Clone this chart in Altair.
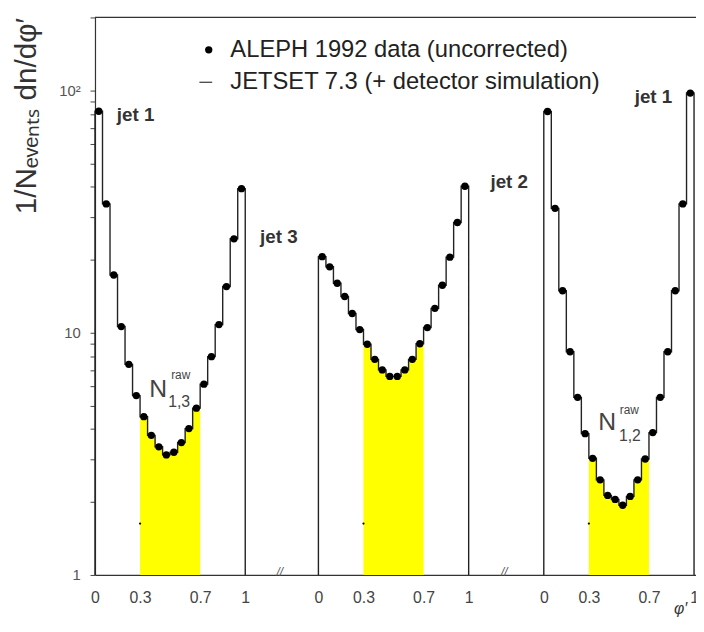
import altair as alt
import pandas as pd

# ---------------- data ----------------
bin_width = 0.05
panel_offsets = [0.0, 1.487, 2.987]          # three 0..1 panels with axis breaks between
panel_names = ["1-3", "3-2", "2-1"]

aleph_13 = [82, 34, 17.3, 10.6, 7.4, 5.5, 4.5, 3.77, 3.38, 3.13,
            3.21, 3.52, 4.02, 4.88, 6.13, 7.96, 10.8, 15.5, 24.4, 39.3]
aleph_32 = [20.6, 18.7, 16.0, 14.1, 12.0, 10.3, 8.96, 7.76, 7.02, 6.6,
            6.6, 7.02, 7.76, 9.0, 10.5, 12.6, 15.7, 20.5, 28.5, 40.2]
aleph_21 = [81.8, 32.6, 14.9, 8.34, 5.41, 3.83, 3.03, 2.47, 2.13, 2.05,
            1.94, 2.11, 2.47, 3.01, 3.87, 5.41, 8.34, 14.9, 34.0, 97.5]

jetset_13 = [82, 34, 17.3, 10.6, 7.4, 5.5, 4.5, 3.77, 3.38, 3.13,
             3.21, 3.52, 4.02, 4.88, 6.13, 7.96, 10.8, 15.5, 24.4, 39.3]
jetset_32 = [20.6, 18.7, 16.0, 14.1, 12.0, 10.3, 8.96, 7.76, 7.02, 6.6,
             6.6, 7.02, 7.76, 9.0, 10.5, 12.6, 15.7, 20.5, 28.5, 40.2]
jetset_21 = [81.8, 32.6, 14.9, 8.34, 5.41, 3.83, 3.03, 2.47, 2.13, 2.05,
             1.94, 2.11, 2.47, 3.01, 3.87, 5.41, 8.34, 14.9, 34.0, 97.5]

shade_from, shade_to = 0.3, 0.7
stray_dot_y = 1.63

x_tick_local = [0, 0.3, 0.7, 1]
x_tick_text = ["0", "0.3", "0.7", "1"]
y_tick_values = [1, 2, 3, 4, 5, 6, 7, 8, 9, 10, 20, 30, 40, 50, 60, 70, 80, 90, 100, 200]

aleph = [aleph_13, aleph_32, aleph_21]
jetset = [jetset_13, jetset_32, jetset_21]

# ---------------- tables ----------------
pts, steps, areas, strays = [], [], [], []
for name, off, dv, mv in zip(panel_names, panel_offsets, aleph, jetset):
    n = len(dv)
    for i, v in enumerate(dv):
        pts.append({"panel": name, "x": off + (i + 0.5) * bin_width, "y": v})
    order = 0
    steps.append({"panel": name, "x": off, "y": 1, "o": order}); order += 1
    for i, v in enumerate(mv):
        steps.append({"panel": name, "x": off + i * bin_width, "y": v, "o": order}); order += 1
    steps.append({"panel": name, "x": off + n * bin_width, "y": mv[-1], "o": order}); order += 1
    steps.append({"panel": name, "x": off + n * bin_width, "y": 1, "o": order})
    i0 = int(round(shade_from / bin_width)); i1 = int(round(shade_to / bin_width))
    for i in range(i0, i1):
        areas.append({"panel": name, "x": off + i * bin_width, "y": mv[i], "base": 1})
    areas.append({"panel": name, "x": off + i1 * bin_width, "y": mv[i1 - 1], "base": 1})
    strays.append({"x": off + shade_from, "y": stray_dot_y})

pts = pd.DataFrame(pts); steps = pd.DataFrame(steps); areas = pd.DataFrame(areas)
strays = pd.DataFrame(strays)

x_tick_values = [off + t for off in panel_offsets for t in x_tick_local]
x_tick_labels = x_tick_text * len(panel_offsets)
label_expr = "[" + ",".join("'%s'" % s for s in x_tick_labels) + "][indexof([" + \
    ",".join(repr(v) for v in x_tick_values) + "], datum.value)]"

FONT = "Liberation Sans"
W, H = 608, 564

xscale = alt.Scale(domain=[0, 4.0], nice=False, zero=False)
yscale = alt.Scale(type="log", domain=[1, 200], nice=False)

x_axis = alt.Axis(
    values=x_tick_values, labelExpr=label_expr, ticks=False, grid=False,
    domainColor="#333", domainWidth=1.2, labelFont=FONT, labelFontSize=16,
    labelColor="#444", labelPadding=15, labelFlush=False,
    title="φ′", titleFont=FONT, titleFontSize=16, titleFontStyle="italic",
    titleFontWeight="normal", titleColor="#333", titleX=592, titleY=26)
y_axis = alt.Axis(
    values=y_tick_values, grid=False, tickSize=5, tickColor="#444",
    domainColor="#333", domainWidth=1.2,
    labelExpr="datum.value == 100 ? '10²' : datum.value == 10 ? '10' : datum.value == 1 ? '1' : ''",
    labelFont=FONT, labelFontSize=15, labelColor="#555", labelPadding=10,
    title="1/Nₑᵥₑₙₜₛ dn/dφ′", titleFont=FONT, titleFontSize=30,
    titleFontWeight="normal", titleColor="#333", titleAnchor="end", titleX=-54)

def X():
    return alt.X("x:Q", scale=xscale, axis=x_axis)

def Y():
    return alt.Y("y:Q", scale=yscale, axis=y_axis)

shade = alt.Chart(areas).mark_area(interpolate="step-after", color="#ffff00", opacity=1).encode(
    x=X(), y=Y(), y2="base:Q", detail="panel:N")

hist = alt.Chart(steps).mark_line(interpolate="step-after", color="#222", strokeWidth=1.4).encode(
    x=X(), y=Y(), detail="panel:N", order="o:Q")

dots = alt.Chart(pts).mark_point(filled=True, shape="circle", size=55, color="#000", opacity=1).encode(
    x=X(), y=Y())

stray = alt.Chart(strays).mark_point(filled=True, shape="circle", size=5, color="#000", opacity=1).encode(
    x=X(), y=Y())

frame_top = alt.Chart(pd.DataFrame({"x": [0.0], "x2": [4.0], "y": [200]})).mark_rule(
    color="#333", strokeWidth=1.2).encode(x=X(), x2="x2:Q", y=Y())

# legend
leg_dot = alt.Chart(pd.DataFrame({"x": [0.757], "y": [147]})).mark_point(
    filled=True, shape="circle", size=55, color="#000", opacity=1).encode(x=X(), y=Y())
leg_dash = alt.Chart(pd.DataFrame({"x": [0.695], "x2": [0.78], "y": [108]})).mark_rule(
    color="#444", strokeWidth=1.3).encode(x=X(), x2="x2:Q", y=Y())
leg_txt = alt.Chart(pd.DataFrame({
    "x": [0.901, 0.901], "y": [147, 108],
    "t": ["ALEPH 1992 data (uncorrected)", "JETSET 7.3 (+ detector simulation)"]})).mark_text(
    align="left", baseline="middle", font=FONT, fontSize=24, color="#222").encode(x=X(), y=Y(), text="t:N")

jets = alt.Chart(pd.DataFrame({
    "x": [0.145, 1.099, 2.632, 3.592], "y": [79, 24.9, 41.7, 93.6],
    "t": ["jet 1", "jet 3", "jet 2", "jet 1"]})).mark_text(
    align="left", baseline="middle", font=FONT, fontSize=19, fontWeight="bold", color="#333").encode(
    x=X(), y=Y(), text="t:N")

n_big = alt.Chart(pd.DataFrame({"x": [0.421, 3.408], "y": [5.85, 4.29], "t": ["N", "N"]})).mark_text(
    align="center", baseline="middle", font=FONT, fontSize=25, color="#444").encode(x=X(), y=Y(), text="t:N")
n_sup = alt.Chart(pd.DataFrame({"x": [0.507, 3.493], "y": [6.67, 4.80], "t": ["raw", "raw"]})).mark_text(
    align="left", baseline="middle", font=FONT, fontSize=12, color="#444").encode(x=X(), y=Y(), text="t:N")
n_sub = alt.Chart(pd.DataFrame({"x": [0.487, 3.487], "y": [5.18, 3.76], "t": ["1,3", "1,2"]})).mark_text(
    align="left", baseline="middle", font=FONT, fontSize=16, color="#444").encode(x=X(), y=Y(), text="t:N")

breaks = alt.Chart(pd.DataFrame({"x": [1.23, 2.724], "y": [1.03, 1.03], "t": ["//", "//"]})).mark_text(
    align="center", baseline="middle", font=FONT, fontSize=12, fontStyle="italic", color="#555").encode(
    x=X(), y=Y(), text="t:N")

chart = alt.layer(shade, hist, dots, stray, frame_top, leg_dot, leg_dash, leg_txt, jets,
                  n_big, n_sup, n_sub, breaks).properties(
    width=W, height=H,
    autosize=alt.AutoSizeParams(type="none"),
    padding={"left": 88, "top": 6, "right": 0, "bottom": 42},
    background="white",
).configure_view(strokeWidth=0)

chart.save("out.html", embed_options={"renderer": "svg", "actions": False})
